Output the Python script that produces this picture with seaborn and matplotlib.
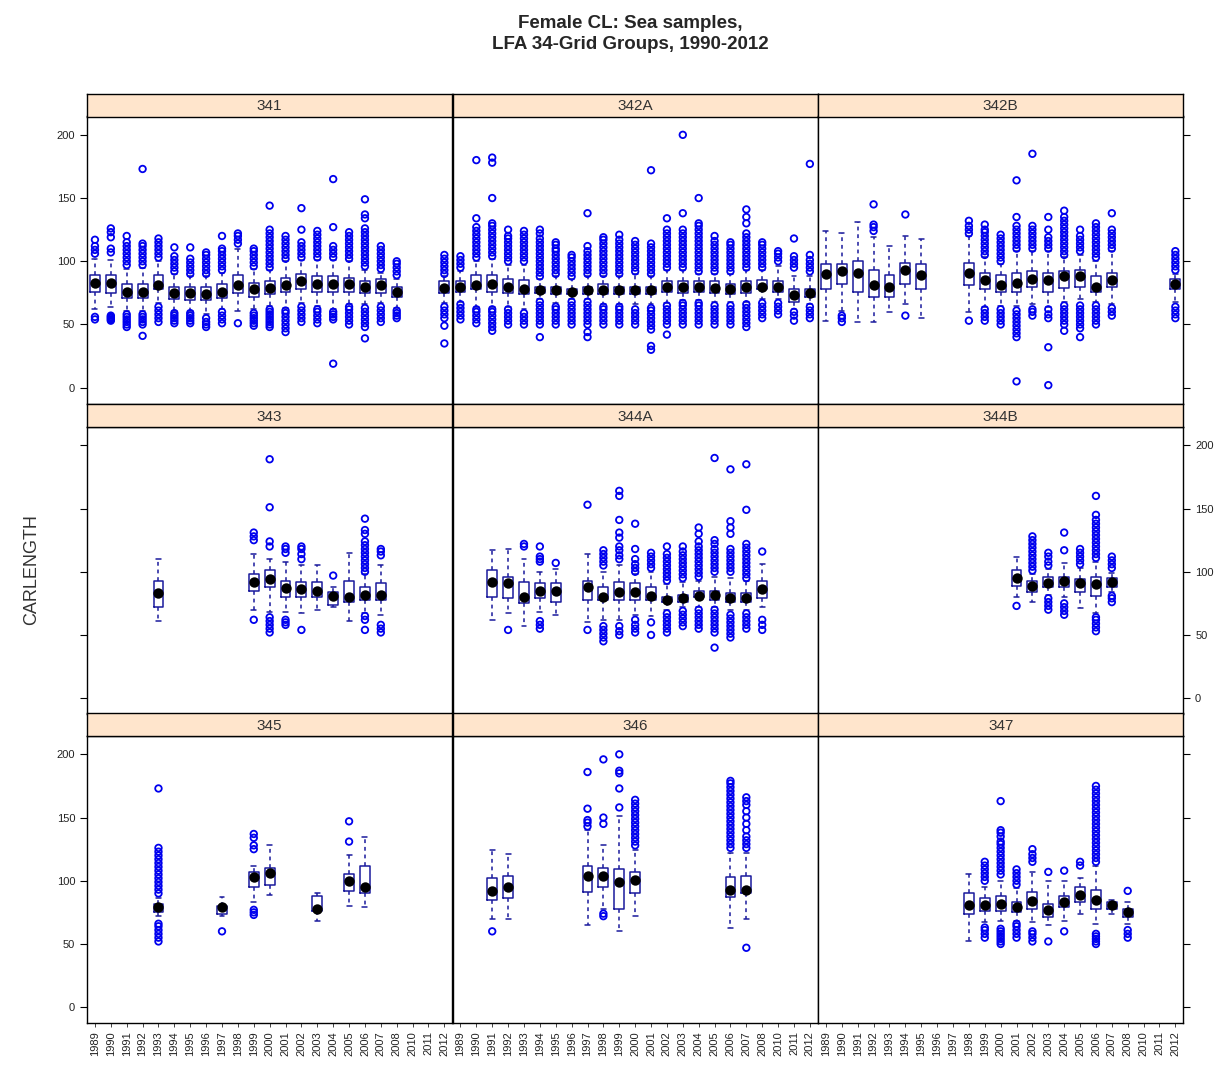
import matplotlib
matplotlib.use('Agg')
import matplotlib.pyplot as plt
import pandas as pd
import seaborn as sns

YEARS = ['1989', '1990', '1991', '1992', '1993', '1994', '1995', '1996', '1997', '1998',
         '1999', '2000', '2001', '2002', '2003', '2004', '2005', '2006', '2007', '2008',
         '2010', '2011', '2012']

LAYOUT = [['341', '342A', '342B'],
          ['343', '344A', '344B'],
          ['345', '346', '347']]

# year, lower whisker, q1, median, q3, upper whisker
BOX_341 = [
    (1989, 62, 76, 83, 89, 102), (1990, 64, 75, 83, 89, 101), (1991, 61, 71, 76, 82, 94),
    (1992, 61, 71, 76, 82, 95), (1993, 67, 78, 81, 89, 100), (1994, 61, 70, 75, 80, 90),
    (1995, 61, 69, 75, 80, 88), (1996, 58, 69, 74, 80, 88), (1997, 62, 71, 76, 82, 91),
    (1998, 61, 75, 81, 89, 110), (1999, 62, 72, 78, 83, 94), (2000, 65, 74, 79, 84, 93),
    (2001, 63, 76, 81, 87, 100), (2002, 67, 78, 84, 90, 101), (2003, 65, 76, 82, 88, 101),
    (2004, 62, 76, 82, 88, 101), (2005, 66, 76, 82, 87, 100), (2006, 66, 75, 80, 84, 93),
    (2007, 67, 75, 81, 86, 91), (2008, 63, 72, 76, 80, 86), (2012, 67, 75, 79, 84, 88),
]
OUT_341 = {
    1989: [54, 56, 106, 109, 112, 117],
    1990: [53, 54, 55, 56, 57, 107, 110, 119, 123, 126],
    1991: [48, 50, 52, 54, 56, 58, 97, 100, 103, 106, 109, 112, 115, 120],
    1992: [41, 50, 52, 54, 56, 58, 97, 100, 103, 106, 109, 112, 114, 173],
    1993: [52, 55, 58, 61, 64, 103, 106, 109, 112, 115, 118],
    1994: [51, 53, 55, 57, 59, 92, 95, 98, 101, 104, 111],
    1995: [51, 53, 55, 57, 59, 90, 93, 96, 99, 102, 111],
    1996: [48, 50, 52, 55, 90, 93, 96, 99, 102, 105, 107],
    1997: [51, 54, 57, 60, 93, 96, 99, 102, 105, 108, 110, 120],
    1998: [51, 114, 117, 120, 122],
    1999: [49, 51, 53, 55, 57, 59, 96, 99, 102, 105, 108, 110],
    2000: [48, 50, 52, 54, 56, 58, 60, 62, 95, 98, 101, 104, 107, 110, 113, 116, 119, 122, 125, 144],
    2001: [44, 47, 50, 53, 56, 59, 61, 102, 105, 108, 111, 114, 117, 120],
    2002: [52, 55, 58, 61, 64, 103, 106, 109, 112, 115, 125, 142],
    2003: [51, 54, 57, 60, 62, 103, 106, 109, 112, 115, 118, 121, 124],
    2004: [19, 54, 56, 58, 60, 103, 106, 109, 112, 127, 165],
    2005: [50, 53, 56, 59, 62, 64, 102, 105, 108, 111, 114, 117, 120, 123],
    2006: [39, 48, 51, 54, 57, 60, 63, 96, 99, 102, 105, 108, 111, 114, 117, 120, 123, 126,
           134, 137, 149],
    2007: [52, 55, 58, 61, 64, 94, 97, 100, 103, 106, 109, 112],
    2008: [55, 57, 59, 61, 89, 92, 95, 98, 100],
    2012: [35, 49, 55, 58, 61, 64, 90, 93, 96, 99, 102, 105],
}

BOX_342A = [
    (1989, 68, 76, 80, 84, 92), (1990, 64, 78, 81, 89, 100), (1991, 64, 76, 82, 89, 102),
    (1992, 64, 75, 80, 86, 97), (1993, 62, 74, 78, 85, 97), (1994, 70, 75, 77, 80, 86),
    (1995, 67, 74, 77, 80, 88), (1996, 70, 74, 76, 78, 86), (1997, 70, 74, 77, 80, 88),
    (1998, 66, 74, 77, 82, 88), (1999, 66, 74, 77, 80, 88), (2000, 66, 74, 77, 80, 90),
    (2001, 66, 74, 77, 80, 88), (2002, 67, 76, 80, 84, 93), (2003, 69, 75, 80, 84, 93),
    (2004, 69, 76, 80, 84, 90), (2005, 68, 75, 79, 84, 90), (2006, 68, 74, 78, 82, 90),
    (2007, 68, 75, 80, 84, 93), (2008, 70, 78, 80, 85, 93), (2010, 70, 76, 80, 84, 96),
    (2011, 62, 68, 73, 78, 88), (2012, 66, 72, 75, 78, 88),
]
OUT_342A = {
    1989: [54, 57, 60, 63, 66, 95, 98, 101, 104],
    1990: [51, 54, 57, 60, 62, 103, 106, 109, 112, 115, 118, 121, 124, 127, 134, 180],
    1991: [45, 48, 51, 54, 57, 60, 62, 104, 107, 110, 113, 116, 119, 122, 125, 128, 130, 150,
           178, 182],
    1992: [50, 53, 56, 59, 62, 100, 103, 106, 109, 112, 115, 118, 120, 125],
    1993: [50, 53, 56, 59, 100, 103, 106, 109, 112, 115, 118, 121, 124],
    1994: [40, 50, 53, 56, 59, 62, 65, 68, 88, 91, 94, 97, 100, 103, 106, 109, 112, 115, 118,
           122, 125],
    1995: [50, 53, 56, 59, 62, 64, 90, 93, 96, 99, 102, 105, 108, 110, 113, 115],
    1996: [50, 53, 56, 59, 62, 65, 68, 88, 91, 94, 97, 100, 103, 105],
    1997: [40, 44, 50, 53, 56, 59, 62, 65, 68, 90, 93, 96, 99, 102, 105, 108, 112, 138],
    1998: [50, 53, 56, 59, 62, 64, 90, 93, 96, 99, 102, 105, 108, 111, 114, 117, 119],
    1999: [50, 53, 56, 59, 62, 64, 90, 93, 96, 99, 102, 105, 108, 111, 114, 117, 121],
    2000: [50, 53, 56, 59, 62, 92, 95, 98, 101, 104, 107, 110, 113, 116],
    2001: [30, 33, 46, 49, 52, 55, 58, 61, 63, 90, 93, 96, 99, 102, 105, 108, 111, 114, 172],
    2002: [42, 50, 53, 56, 59, 62, 65, 95, 98, 101, 104, 107, 110, 113, 116, 119, 122, 125, 134],
    2003: [50, 53, 56, 59, 62, 65, 67, 95, 98, 101, 104, 107, 110, 113, 116, 119, 122, 125,
           138, 200],
    2004: [50, 53, 56, 59, 62, 65, 67, 92, 95, 98, 101, 104, 107, 110, 113, 116, 119, 122, 125,
           128, 130, 150],
    2005: [50, 53, 56, 59, 62, 65, 92, 95, 98, 101, 104, 107, 110, 113, 116, 120],
    2006: [50, 53, 56, 59, 62, 65, 92, 95, 98, 101, 104, 107, 110, 113, 115],
    2007: [48, 51, 54, 57, 60, 63, 66, 95, 98, 101, 104, 107, 110, 113, 116, 119, 122, 130,
           135, 141],
    2008: [55, 58, 61, 64, 67, 95, 98, 101, 104, 107, 110, 113, 115],
    2010: [58, 61, 64, 67, 100, 103, 106, 108],
    2011: [53, 57, 60, 95, 98, 101, 104, 118],
    2012: [55, 58, 61, 64, 92, 95, 98, 101, 105, 177],
}

BOX_342B = [
    (1989, 53, 78, 90, 98, 124), (1990, 61, 82, 92, 98, 122), (1991, 52, 76, 91, 100, 131),
    (1992, 52, 72, 81, 93, 119), (1993, 60, 72, 80, 89, 112), (1994, 66, 82, 93, 99, 120),
    (1995, 55, 78, 89, 98, 118), (1998, 60, 81, 91, 99, 120), (1999, 64, 78, 85, 91, 103),
    (2000, 65, 76, 81, 89, 98), (2001, 65, 76, 83, 91, 108), (2002, 66, 80, 86, 92, 108),
    (2003, 64, 76, 85, 91, 108), (2004, 68, 79, 88, 92, 103), (2005, 70, 80, 88, 93, 105),
    (2006, 68, 76, 80, 88, 100), (2007, 66, 80, 85, 91, 108), (2012, 68, 78, 82, 86, 90),
]
OUT_342B = {
    1990: [52, 55, 57],
    1992: [124, 127, 129, 145],
    1994: [57, 137],
    1998: [53, 122, 125, 128, 132],
    1999: [53, 56, 59, 62, 105, 108, 111, 114, 117, 120, 123, 125, 129],
    2000: [50, 53, 56, 59, 62, 100, 103, 106, 109, 112, 115, 118, 121],
    2001: [5, 40, 43, 46, 49, 52, 55, 58, 61, 110, 113, 116, 119, 122, 125, 128, 135, 164],
    2002: [57, 60, 62, 110, 113, 116, 119, 122, 125, 128, 185],
    2003: [2, 32, 55, 58, 62, 110, 113, 116, 119, 125, 135],
    2004: [45, 50, 53, 56, 59, 62, 65, 105, 108, 111, 114, 117, 120, 123, 126, 129, 132, 135, 140],
    2005: [40, 47, 50, 53, 56, 59, 62, 65, 108, 111, 114, 117, 120, 125],
    2006: [50, 53, 56, 59, 62, 65, 103, 106, 109, 112, 115, 118, 121, 124, 127, 130],
    2007: [57, 60, 63, 110, 113, 116, 119, 122, 125, 138],
    2012: [55, 58, 61, 64, 93, 96, 99, 102, 105, 108],
}

BOX_343 = [
    (1993, 61, 72, 83, 93, 110), (1999, 70, 85, 92, 98, 114), (2000, 68, 88, 94, 101, 110),
    (2001, 68, 80, 87, 93, 108), (2002, 67, 80, 86, 92, 105), (2003, 70, 80, 85, 92, 105),
    (2004, 72, 74, 81, 84, 88), (2005, 61, 76, 80, 93, 115), (2006, 67, 78, 82, 88, 98),
    (2007, 66, 78, 82, 91, 105),
]
OUT_343 = {
    1999: [62, 125, 128, 131],
    2000: [52, 55, 58, 61, 64, 120, 124, 151, 189],
    2001: [58, 60, 62, 115, 118, 120],
    2002: [54, 110, 114, 118, 120],
    2004: [97],
    2006: [54, 62, 65, 100, 103, 106, 109, 112, 115, 118, 121, 124, 130, 133, 142],
    2007: [52, 55, 58, 113, 116, 118],
}

BOX_344A = [
    (1991, 62, 80, 92, 101, 117), (1992, 67, 79, 91, 96, 118), (1993, 57, 75, 80, 92, 110),
    (1994, 68, 79, 85, 91, 100), (1995, 66, 76, 85, 91, 102), (1997, 60, 78, 88, 93, 114),
    (1998, 62, 78, 80, 88, 100), (1999, 62, 78, 84, 92, 105), (2000, 66, 78, 84, 91, 98),
    (2001, 65, 78, 81, 88, 100), (2002, 70, 76, 78, 80, 90), (2003, 72, 76, 79, 82, 92),
    (2004, 72, 80, 81, 85, 93), (2005, 72, 78, 82, 85, 96), (2006, 70, 76, 79, 83, 95),
    (2007, 70, 76, 79, 83, 93), (2008, 72, 79, 86, 93, 106),
]
OUT_344A = {
    1992: [54],
    1993: [120, 122],
    1994: [55, 58, 61, 108, 110, 112, 120],
    1995: [107],
    1997: [54, 153],
    1998: [45, 48, 51, 54, 57, 105, 108, 111, 114, 117],
    1999: [50, 53, 57, 110, 113, 117, 120, 127, 131, 141, 160, 164],
    2000: [52, 55, 58, 62, 100, 103, 106, 110, 118, 138],
    2001: [50, 60, 103, 106, 109, 112, 115],
    2002: [52, 55, 58, 61, 64, 67, 93, 96, 99, 102, 105, 108, 111, 114, 120],
    2003: [57, 60, 63, 66, 69, 95, 98, 101, 104, 107, 110, 113, 116, 120],
    2004: [55, 58, 61, 64, 67, 70, 96, 99, 102, 105, 108, 111, 114, 117, 120, 124, 130, 135],
    2005: [40, 52, 55, 58, 61, 64, 67, 70, 100, 103, 106, 109, 112, 115, 118, 122, 125, 190],
    2006: [48, 51, 54, 57, 60, 63, 66, 100, 103, 106, 109, 112, 115, 118, 130, 135, 140, 181],
    2007: [55, 58, 61, 64, 67, 95, 98, 101, 104, 107, 110, 113, 116, 119, 122, 149, 185],
    2008: [54, 58, 62, 116],
}

BOX_344B = [
    (2001, 80, 89, 95, 101, 112), (2002, 76, 84, 89, 93, 98), (2003, 82, 88, 91, 96, 102),
    (2004, 80, 88, 93, 96, 107), (2005, 71, 84, 91, 94, 103), (2006, 67, 81, 90, 96, 108),
    (2007, 84, 88, 92, 95, 99),
]
OUT_344B = {
    2001: [73],
    2002: [101, 104, 107, 110, 113, 116, 119, 122, 125, 128],
    2003: [70, 73, 76, 79, 105, 108, 112, 115],
    2004: [66, 69, 72, 75, 117, 131],
    2005: [106, 109, 112, 115, 118],
    2006: [53, 56, 59, 62, 64, 111, 114, 117, 120, 123, 126, 129, 132, 135, 138, 141, 145, 160],
    2007: [76, 79, 81, 103, 106, 109, 112],
}

BOX_345 = [
    (1993, 72, 75, 79, 82, 86), (1997, 72, 74, 79, 80, 87), (1999, 83, 95, 103, 107, 112),
    (2000, 89, 97, 106, 110, 128), (2003, 68, 76, 78, 88, 90), (2005, 80, 92, 100, 105, 120),
    (2006, 79, 90, 95, 112, 135),
]
OUT_345 = {
    1993: [52, 55, 58, 61, 64, 66, 90, 93, 96, 99, 102, 105, 108, 111, 114, 117, 120, 123, 126, 173],
    1997: [60],
    1999: [73, 75, 77, 125, 128, 134, 137],
    2005: [131, 147],
}

BOX_346 = [
    (1991, 70, 85, 92, 102, 124), (1992, 70, 86, 95, 104, 121), (1997, 65, 91, 104, 112, 140),
    (1998, 78, 95, 104, 110, 128), (1999, 60, 78, 99, 109, 151), (2000, 72, 90, 101, 107, 124),
    (2006, 63, 87, 93, 103, 122), (2007, 70, 90, 93, 104, 122),
]
OUT_346 = {
    1991: [60],
    1997: [143, 146, 148, 157, 186],
    1998: [72, 74, 145, 150, 196],
    1999: [158, 173, 185, 187, 200],
    2000: [128, 131, 134, 137, 140, 143, 146, 149, 152, 155, 158, 161, 164],
    2006: [126, 129, 132, 135, 138, 141, 144, 147, 150, 153, 156, 159, 162, 165, 168, 171,
           174, 177, 179],
    2007: [47, 126, 129, 132, 135, 140, 145, 150, 155, 160, 163, 166],
}

BOX_347 = [
    (1998, 52, 74, 81, 90, 105), (1999, 67, 76, 81, 86, 95), (2000, 68, 76, 82, 88, 100),
    (2001, 68, 75, 79, 83, 94), (2002, 67, 78, 84, 91, 107), (2003, 65, 71, 77, 82, 100),
    (2004, 68, 79, 83, 88, 100), (2005, 74, 83, 89, 95, 102), (2006, 66, 78, 85, 93, 112),
    (2007, 74, 78, 81, 83, 85), (2008, 66, 71, 75, 78, 83),
]
OUT_347 = {
    1999: [55, 58, 61, 63, 100, 103, 106, 109, 112, 115],
    2000: [50, 52, 54, 56, 58, 60, 62, 105, 108, 111, 114, 117, 120, 123, 126, 129, 131,
           135, 138, 140, 163],
    2001: [55, 58, 61, 64, 66, 97, 100, 103, 106, 109],
    2002: [52, 55, 58, 60, 115, 118, 121, 125],
    2003: [52, 107],
    2004: [60, 108],
    2005: [112, 115],
    2006: [50, 52, 54, 56, 58, 115, 118, 121, 124, 127, 130, 133, 136, 139, 142, 145, 148, 151,
           154, 157, 160, 163, 166, 169, 172, 175],
    2008: [55, 58, 61, 92],
}

PANELS = {
    '341': (BOX_341, OUT_341), '342A': (BOX_342A, OUT_342A), '342B': (BOX_342B, OUT_342B),
    '343': (BOX_343, OUT_343), '344A': (BOX_344A, OUT_344A), '344B': (BOX_344B, OUT_344B),
    '345': (BOX_345, OUT_345), '346': (BOX_346, OUT_346), '347': (BOX_347, OUT_347),
}

BOX_COL = '#1a1a9c'
PT_COL = '#0000ee'
STRIP_COL = '#ffe5cc'

sns.set_theme(style='white')
plt.rcParams['font.family'] = ['Liberation Sans', 'DejaVu Sans']


def draw_panel(ax, boxes, outliers):
    stats = pd.DataFrame(boxes, columns=['year', 'lo', 'q1', 'med', 'q3', 'hi'])
    stats['year'] = stats['year'].astype(str)
    five = stats.melt(id_vars='year', value_vars=['lo', 'q1', 'med', 'q3', 'hi'],
                      value_name='CARLENGTH')
    sns.boxplot(data=five, x='year', y='CARLENGTH', order=YEARS, whis=(0, 100),
                width=0.62, fill=False, color=BOX_COL, linewidth=1.1, showfliers=False,
                whiskerprops=dict(linestyle=(0, (2.5, 2.5))),
                medianprops=dict(linewidth=0), ax=ax)
    flier = pd.DataFrame([(str(y), v) for y, vals in outliers.items() for v in vals],
                         columns=['year', 'CARLENGTH'])
    if len(flier):
        sns.stripplot(data=flier, x='year', y='CARLENGTH', order=YEARS, jitter=False,
                      size=4.7, facecolor='none', edgecolor=PT_COL, linewidth=1.3, ax=ax)
    sns.stripplot(data=stats, x='year', y='med', order=YEARS, jitter=False,
                  color='black', size=7.5, ax=ax)


W, H = 1231, 1067
col_left = [87, 452.5, 818]
col_w = 365.3
strip_top = [93.5, 404, 713]
strip_h = 23
panel_h = 287

fig = plt.figure(figsize=(W / 100, H / 100), dpi=100)

for r, row in enumerate(LAYOUT):
    for c, name in enumerate(row):
        ptop = strip_top[r] + strip_h
        ax = fig.add_axes([col_left[c] / W, 1 - (ptop + panel_h) / H, col_w / W, panel_h / H])
        sax = fig.add_axes([col_left[c] / W, 1 - ptop / H, col_w / W, strip_h / H])
        boxes, outliers = PANELS[name]
        draw_panel(ax, boxes, outliers)

        ax.set_ylim(-12.5, 214.5)
        ax.set_xlim(-0.5, len(YEARS) - 0.5)
        ax.set_xlabel('')
        ax.set_ylabel('')
        ax.set_yticks([0, 50, 100, 150, 200])
        for sp in ax.spines.values():
            sp.set_color('black')
            sp.set_linewidth(1.0)
        ax.tick_params(axis='y', length=5, width=0.8, color='black', labelsize=8,
                       labelcolor='#222222',
                       left=(c == 0), right=(c == 2),
                       labelleft=(c == 0 and r != 1), labelright=(c == 2 and r == 1))
        if r == 2:
            ax.tick_params(axis='x', bottom=True, length=3, width=0.6, labelsize=8,
                           labelcolor='#222222', rotation=90, pad=3)
        else:
            ax.tick_params(axis='x', bottom=False, labelbottom=False)

        sax.set_facecolor(STRIP_COL)
        sax.set_xticks([])
        sax.set_yticks([])
        for sp in sax.spines.values():
            sp.set_color('black')
            sp.set_linewidth(1.0)
        sax.text(0.5, 0.45, name, ha='center', va='center', fontsize=11, color='#333333',
                 transform=sax.transAxes)

fig.text(0.512, 1 - 34 / H, 'Female CL: Sea samples,\nLFA 34-Grid Groups, 1990-2012',
         ha='center', va='center', fontsize=13.5, fontweight='bold', linespacing=1.35)
fig.text(0.026, 1 - 570 / H, 'CARLENGTH', rotation=90, ha='center', va='center',
         fontsize=13, color='#333333')

fig.savefig('out.png', dpi=100)
